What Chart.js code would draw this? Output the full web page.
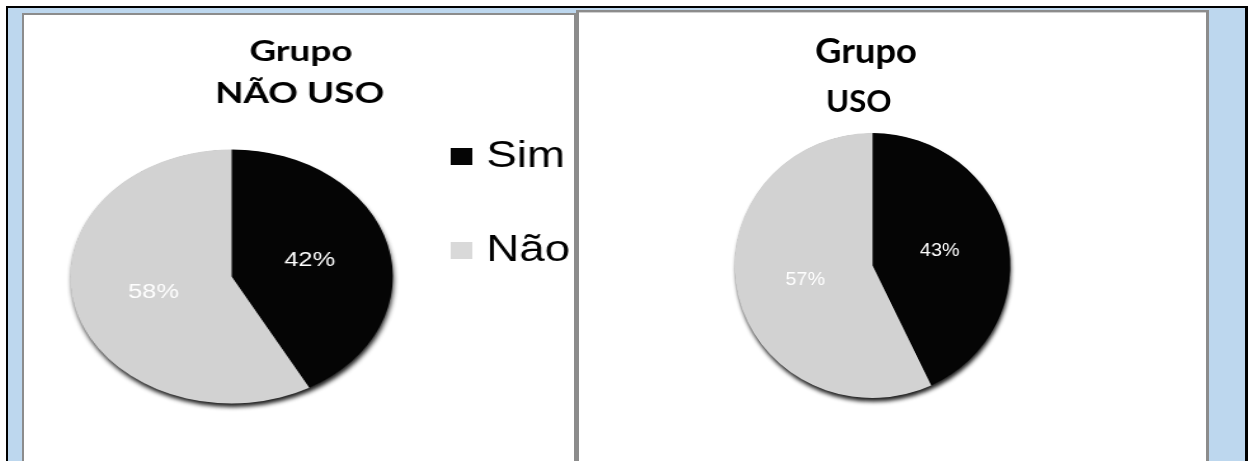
<!DOCTYPE html>
<html lang="pt">
<head>
<meta charset="utf-8">
<title>Grupo NÃO USO / Grupo USO</title>
<script src="https://cdn.jsdelivr.net/npm/chart.js@4.4.1/dist/chart.umd.min.js"></script>
<style>
    html, body {
        margin: 0;
        padding: 0;
        background: #fff;
        width: 1248px;
        height: 461px;
        overflow: hidden;
    }
    .frame {
        position: absolute;
        left: 6px;
        top: 6px;
        width: 1242px;
        height: 470px;
        box-sizing: border-box;
        background: #bdd7ee;
        border-left: 2px solid #000;
        border-top: 2px solid #000;
        border-right: 3px solid #000;
    }
    .panel {
        position: absolute;
        box-sizing: border-box;
        background: #fff;
        border: 2px solid #8c8c8c;
        overflow: hidden;
    }
    #panelNaoUso {
        left: 22px;
        top: 13px;
        width: 555px;
        height: 460px;
        border-right-width: 3px;
    }
    #panelUso {
        left: 576px;
        top: 10px;
        width: 633px;
        height: 460px;
        border-left-width: 3px;
        border-right-width: 3px;
        box-shadow: inset 0 1px 0 #d0d0d0;
    }
    .panel canvas {
        position: absolute;
        left: 0;
        top: 0;
        transform-origin: 0 0;
    }
    #chartNaoUso { transform: scaleX(1.27); }
    #chartUso { transform: scaleX(1.04); }
</style>
</head>
<body>
<div class="frame"></div>
<div class="panel" id="panelNaoUso"><canvas id="chartNaoUso" width="433" height="446"></canvas></div>
<div class="panel" id="panelUso"><canvas id="chartUso" width="603" height="449"></canvas></div>

<script>
// ========================================
// DATA
// ========================================
const categories = ['Sim', 'Não'];
const naoUsoValues = [42, 58];
const usoValues = [43, 57];
const sliceColors = ['#050505', '#d2d2d2'];

// ========================================
// DECORATION PLUGIN (shadow, % labels, titles, legend)
// ========================================
function makeDecor(cfg) {
    return {
        id: 'decor',
        beforeDatasetsDraw(chart) {
            // soft drop shadow under the whole pie
            const ctx = chart.ctx;
            const arc = chart.getDatasetMeta(0).data[0];
            if (!arc) return;
            const {x, y, outerRadius} = arc.getProps(['x', 'y', 'outerRadius'], true);
            ctx.save();
            ctx.shadowColor = 'rgba(0, 0, 0, 0.9)';
            ctx.shadowBlur = 4;
            ctx.shadowOffsetX = 1;
            ctx.shadowOffsetY = 4;
            ctx.fillStyle = '#666';
            ctx.beginPath();
            ctx.arc(x, y, outerRadius - 0.5, 0, Math.PI * 2);
            ctx.fill();
            ctx.restore();
        },
        afterDatasetsDraw(chart) {
            // percentage labels in the middle of each slice
            const ctx = chart.ctx;
            const values = chart.data.datasets[0].data;
            ctx.save();
            ctx.fillStyle = '#fff';
            ctx.font = cfg.labelFont;
            ctx.textAlign = 'center';
            ctx.textBaseline = 'middle';
            chart.getDatasetMeta(0).data.forEach((arc, i) => {
                const p = arc.tooltipPosition();
                ctx.fillText(values[i] + '%', p.x, p.y);
            });
            ctx.restore();
        },
        afterDraw(chart) {
            const ctx = chart.ctx;
            ctx.save();
            ctx.fillStyle = '#000';
            ctx.textAlign = 'center';
            ctx.textBaseline = 'alphabetic';
            cfg.titles.forEach(t => {
                ctx.font = t.font;
                ctx.fillText(t.text, t.x, t.y);
            });
            if (cfg.legend) {
                const lg = cfg.legend;
                ctx.textAlign = 'left';
                ctx.font = lg.font;
                categories.forEach((name, i) => {
                    const top = lg.top + i * lg.step;
                    ctx.fillStyle = i === 0 ? sliceColors[0] : '#d9d9d9';
                    ctx.fillRect(lg.x, top, lg.box, lg.box);
                    ctx.fillStyle = '#000';
                    ctx.fillText(name, lg.x + lg.box + 11, top + lg.box + 2);
                });
            }
            ctx.restore();
        }
    };
}

// ========================================
// PIE FACTORY
// ========================================
function createPie(canvasId, values, radius, padding, decor) {
    const ctx = document.getElementById(canvasId);
    if (!ctx) return;

    new Chart(ctx, {
        type: 'pie',
        data: {
            labels: categories,
            datasets: [{
                data: values,
                backgroundColor: sliceColors,
                borderWidth: 0,
                hoverOffset: 0,
                radius: radius
            }]
        },
        options: {
            responsive: false,
            animation: false,
            layout: { padding: padding },
            plugins: {
                legend: { display: false },
                title: { display: false },
                tooltip: { enabled: false }
            }
        },
        plugins: [makeDecor(decor)]
    });
}

createPie('chartNaoUso', naoUsoValues, 127,
    { left: 23.4, right: 129.6, top: 121.5, bottom: 44.5 },
    {
        labelFont: '20px "Liberation Sans", Arial, sans-serif',
        titles: [
            { text: 'Grupo', x: 218, y: 46, font: 'bold 29px Lato, sans-serif' },
            { text: 'NÃO USO', x: 217, y: 88, font: 'bold 29px Lato, sans-serif' }
        ],
        legend: { x: 336, top: 133, step: 94, box: 17, font: '36px "Liberation Sans", Arial, sans-serif' }
    });

createPie('chartUso', usoValues, 132.5,
    { left: 142.2, right: 180.8, top: 113.5, bottom: 55.5 },
    {
        labelFont: '19px "Liberation Sans", Arial, sans-serif',
        titles: [
            { text: 'Grupo', x: 276, y: 51, font: 'bold 35px Lato, sans-serif' },
            { text: 'USO', x: 269, y: 100, font: 'bold 30px Lato, sans-serif' }
        ],
        legend: null
    });
</script>
</body>
</html>
